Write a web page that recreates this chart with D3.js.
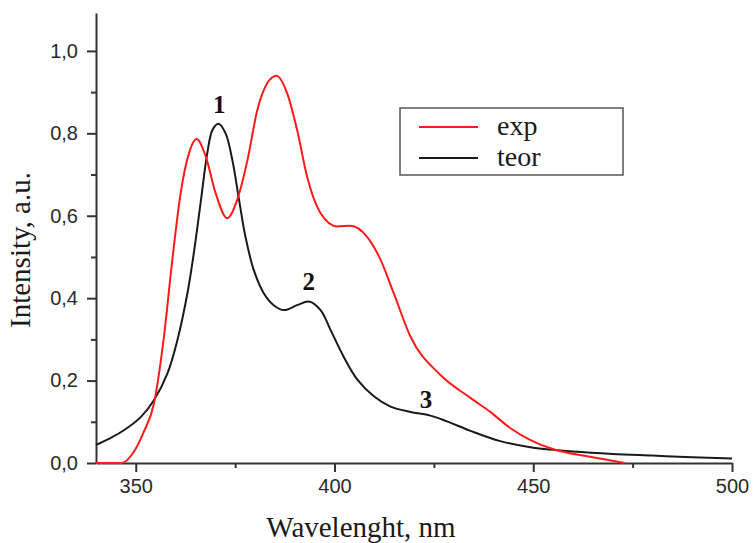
<!DOCTYPE html>
<html>
<head>
<meta charset="utf-8">
<script src="https://cdn.jsdelivr.net/npm/d3@7"></script>
<style>
  body { margin: 0; background: #fff; }
  svg { display: block; }
</style>
</head>
<body>
<svg id="chart" width="754" height="543"></svg>
<script>
// experimental spectrum (red)
const expWl = [340, 346.5, 349, 352, 354.6, 357.1, 359.2, 361.3, 363.4, 365.3, 367.6, 370.1, 373.0, 375.5, 378.1, 380.6, 383.1, 385.4, 388.1, 390.6, 393.1, 396.5, 400.7, 404.0, 408.2, 411.6, 414.9, 419.1, 426.6, 434.2, 439.2, 444.2, 449.2, 455.5, 464.3, 473];
const expI = [0, 0, 0.02, 0.075, 0.145, 0.307, 0.493, 0.655, 0.752, 0.786, 0.744, 0.655, 0.594, 0.638, 0.735, 0.857, 0.922, 0.940, 0.897, 0.808, 0.695, 0.606, 0.574, 0.576, 0.549, 0.493, 0.412, 0.307, 0.214, 0.158, 0.124, 0.085, 0.056, 0.032, 0.015, 0];

// theoretical spectrum (black)
const teorWl = [340, 343.5, 347.1, 351.3, 354.6, 358.0, 360.5, 363.0, 364.6, 366.3, 368.0, 369.3, 370.8, 372.6, 374.3, 376.0, 377.6, 379.7, 382.2, 384.7, 387.3, 390.6, 393.6, 396.5, 399.0, 402.3, 405.7, 409.9, 414.1, 419.1, 424.1, 428.3, 434.2, 441.7, 450, 460, 470, 480, 490, 500];
const teorI = [0.044, 0.060, 0.080, 0.112, 0.153, 0.218, 0.299, 0.412, 0.509, 0.630, 0.752, 0.808, 0.823, 0.800, 0.735, 0.638, 0.549, 0.468, 0.412, 0.383, 0.371, 0.383, 0.392, 0.371, 0.323, 0.258, 0.203, 0.162, 0.137, 0.124, 0.115, 0.101, 0.078, 0.053, 0.037, 0.028, 0.022, 0.018, 0.014, 0.011];

// peak labels
const peakNames = ["1", "2", "3"];
const peakWl = [371, 393.5, 423];
const peakI = [0.87, 0.44, 0.155];

const xTicks = [350, 400, 450, 500];
const xTickLabels = ["350", "400", "450", "500"];
const xMinor = [375, 425, 475];
const yTicks = [0, 0.2, 0.4, 0.6, 0.8, 1.0];
const yTickLabels = ["0,0", "0,2", "0,4", "0,6", "0,8", "1,0"];
const yMinor = [0.1, 0.3, 0.5, 0.7, 0.9];

const legendNames = ["exp", "teor"];
const legendColors = ["#ff1a1a", "#1a1a1a"];

const svg = d3.select("#chart");
const plotLeft = 96, plotRight = 732, plotTop = 13, plotBottom = 463;

const x = d3.scaleLinear().domain([340, 500]).range([plotLeft, plotRight]);
const y = d3.scaleLinear().domain([0, 1.092]).range([plotBottom, plotTop]);

// axes
const xAxis = d3.axisBottom(x).tickValues(xTicks).tickSize(9).tickSizeOuter(0).tickPadding(7)
  .tickFormat((d, i) => xTickLabels[i]);
svg.append("g").attr("transform", `translate(0,${plotBottom})`).call(xAxis);
svg.append("g").attr("transform", `translate(0,${plotBottom})`)
  .call(d3.axisBottom(x).tickValues(xMinor).tickSize(5).tickSizeOuter(0).tickFormat(""))
  .select(".domain").remove();

const yAxis = d3.axisLeft(y).tickValues(yTicks).tickSize(9).tickSizeOuter(0).tickPadding(9)
  .tickFormat((d, i) => yTickLabels[i]);
svg.append("g").attr("transform", `translate(${plotLeft},0)`).call(yAxis);
svg.append("g").attr("transform", `translate(${plotLeft},0)`)
  .call(d3.axisLeft(y).tickValues(yMinor).tickSize(5).tickSizeOuter(0).tickFormat(""))
  .select(".domain").remove();

svg.selectAll(".domain, .tick line").attr("stroke", "#333").attr("stroke-width", 2);
svg.selectAll(".tick text")
  .attr("fill", "#2a2a2a")
  .style("font-family", "'Liberation Sans', Arial, sans-serif")
  .style("font-size", "20px");

// axis titles
svg.append("text")
  .attr("x", 361).attr("y", 537)
  .attr("text-anchor", "middle")
  .style("font-family", "'Liberation Serif', 'Times New Roman', serif")
  .style("font-size", "29px")
  .attr("fill", "#1a1a1a")
  .text("Wavelenght, nm");

svg.append("text")
  .attr("transform", "translate(30,250) rotate(-90)")
  .attr("text-anchor", "middle")
  .style("font-family", "'Liberation Serif', 'Times New Roman', serif")
  .style("font-size", "29px")
  .attr("fill", "#1a1a1a")
  .text("Intensity, a.u.");

// curves
const lineExp = d3.line()
  .x(d => x(d[0]))
  .y(d => y(d[1]))
  .curve(d3.curveMonotoneX);

const lineTeor = d3.line()
  .x(d => x(d[0]))
  .y(d => y(d[1]))
  .curve(d3.curveCatmullRom.alpha(0.5));

svg.append("path")
  .datum(teorWl.map((w, i) => [w, teorI[i]]))
  .attr("fill", "none")
  .attr("stroke", legendColors[1])
  .attr("stroke-width", 2)
  .attr("d", lineTeor);

svg.append("path")
  .datum(expWl.map((w, i) => [w, expI[i]]))
  .attr("fill", "none")
  .attr("stroke", legendColors[0])
  .attr("stroke-width", 2)
  .attr("d", lineExp);

// peak numbers
svg.append("g").selectAll("text")
  .data(peakNames)
  .join("text")
    .attr("x", (d, i) => x(peakWl[i]))
    .attr("y", (d, i) => y(peakI[i]))
    .attr("dy", "0.35em")
    .attr("text-anchor", "middle")
    .style("font-family", "'Liberation Serif', 'Times New Roman', serif")
    .style("font-weight", "bold")
    .style("font-size", "25px")
    .attr("fill", "#111")
    .text(d => d);

// legend
const lg = svg.append("g");
lg.append("rect")
  .attr("x", 400).attr("y", 108).attr("width", 223).attr("height", 67)
  .attr("fill", "#fff").attr("stroke", "#555").attr("stroke-width", 1.5);
legendNames.forEach((name, i) => {
  const ly = 127 + i * 31;
  lg.append("line")
    .attr("x1", 419).attr("x2", 478).attr("y1", ly).attr("y2", ly)
    .attr("stroke", legendColors[i]).attr("stroke-width", 2);
  lg.append("text")
    .attr("x", 497).attr("y", ly).attr("dy", "0.3em")
    .style("font-family", "'Liberation Serif', 'Times New Roman', serif")
    .style("font-size", "28px")
    .attr("fill", "#1a1a1a")
    .text(name);
});
</script>
</body>
</html>
